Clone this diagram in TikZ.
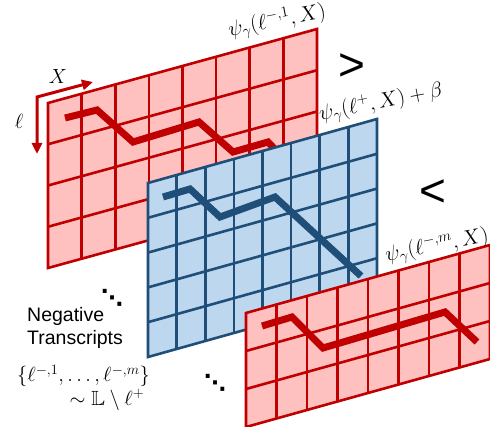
\RequirePackage{fix-cm}
\documentclass[tikz,border=0pt]{standalone}
\usepackage{amssymb}
\usepackage{fontspec}
\newfontfamily\sansf{Liberation Sans}
\newfontfamily\dejavu{DejaVu Sans}
\usetikzlibrary{arrows.meta,calc}
\definecolor{redline}{HTML}{C00000}
\definecolor{redfill}{HTML}{FFC0C0}
\definecolor{blueline}{HTML}{1F4E79}
\definecolor{bluefill}{HTML}{BDD7EE}
\newcommand{\gridpanel}[4]{%
  \fill[#4fill] (#1tl) -- (#1tr) -- (#1br) -- (#1bl) -- cycle;
  \pgfmathtruncatemacro\ncm{#2-1}
  \pgfmathtruncatemacro\nrm{#3-1}
  \foreach \i in {1,...,\ncm} {\draw[gridline,#4line] ($(#1tl)!\i/#2!(#1tr)$) -- ($(#1bl)!\i/#2!(#1br)$);}
  \foreach \j in {1,...,\nrm} {\draw[gridline,#4line] ($(#1tl)!\j/#3!(#1bl)$) -- ($(#1tr)!\j/#3!(#1br)$);}
  \draw[gridline,#4line] (#1tl) -- (#1tr) -- (#1br) -- (#1bl) -- cycle;
}
\begin{document}
\begin{tikzpicture}[x=1pt,y=-1pt,
  gridline/.style={line width=2.6pt, line join=miter},
  trace/.style={line width=7pt, line join=miter},
  axisarrow/.style={line width=3pt, redline, line join=miter, {Triangle[length=11pt,width=10pt]}-{Triangle[length=11pt,width=10pt]}},
  lbl/.style={inner sep=0pt, font=\fontsize{20.5}{23}\selectfont},
  plbl/.style={inner sep=0pt, rotate=11, font=\fontsize{21.5}{24}\selectfont},
  dotsty/.style={inner sep=0pt, font=\dejavu\bfseries\fontsize{22}{24}\selectfont},
  cmp/.style={inner sep=0pt, font=\sansf\fontsize{46}{50}\selectfont}]
\useasboundingbox (0,0) rectangle (490,427);
% panel 1
\coordinate (ptl) at (48,103); \coordinate (ptr) at (317,29);
\coordinate (pbl) at (48,268); \coordinate (pbr) at (317,194);
\gridpanel{p}{8}{4}{red}
\coordinate (r1) at (65,118); \coordinate (r2) at (97,110); \coordinate (r3) at (133,142);
\coordinate (r4) at (199,122); \coordinate (r5) at (233,152); \coordinate (r6) at (268,142);
\coordinate (r7) at (290,165);
\draw[trace,redline] (r1) -- (r2) -- (r3) -- (r4) -- (r5) -- (r6) -- (r7);
% panel 2
\coordinate (qtl) at (148,183); \coordinate (qtr) at (377,119);
\coordinate (qbl) at (148,357); \coordinate (qbr) at (377,293);
\gridpanel{q}{8}{5}{blue}
\coordinate (b1) at (163,197); \coordinate (b2) at (190,189); \coordinate (b3) at (220,217);
\coordinate (b4) at (275,197); \coordinate (b5) at (361,276);
\draw[trace,blueline] (b1) -- (b2) -- (b3) -- (b4) -- (b5);
% panel 3
\coordinate (stl) at (246,313); \coordinate (str) at (490,245);
\coordinate (sbl) at (246,427); \coordinate (sbr) at (490,359);
\gridpanel{s}{8}{3}{red}
\coordinate (m1) at (262,326); \coordinate (m2) at (292,317); \coordinate (m3) at (323,348);
\coordinate (m4) at (445,312); \coordinate (m5) at (477,342);
\draw[trace,redline] (m1) -- (m2) -- (m3) -- (m4) -- (m5);
% axes
\coordinate (ax0) at (37,97); \coordinate (axX) at (93,82); \coordinate (axL) at (37,154);
\draw[axisarrow] (axX) -- (ax0) -- (axL);
\node[lbl] (xlab) at (58,77) {$X$};
\node[lbl] (llab) at (19,121) {$\ell$};
% labels
\node[plbl] (lab1) at (277,21) {$\psi_\gamma(\ell^{-,1}, X)$};
\node[plbl] (lab2) at (381,103) {$\psi_\gamma(\ell^{+}, X) + \beta$};
\node[plbl] (lab3) at (437,246) {$\psi_\gamma(\ell^{-,m}, X)$};
\node[cmp] (gt) at (352,67.5) {>};
\node[cmp] (lt) at (433,193) {<};
\node[dotsty] (dots1) at (112,298) {⋱};
\node[dotsty] (dots2) at (215,383) {⋱};
\node[inner sep=0pt, anchor=north west, align=left, font=\sansf\fontsize{19.5}{22.5}\selectfont] (neg) at (27,307.5) {Negative\\Transcripts};
\node[lbl] (set1) at (83.5,376) {$\{\ell^{-,1}, \dots, \ell^{-,m}\}$};
\node[lbl] (set2) at (107,400) {$\sim \mathbb{L} \setminus \ell^{+}$};
\end{tikzpicture}
\end{document}
